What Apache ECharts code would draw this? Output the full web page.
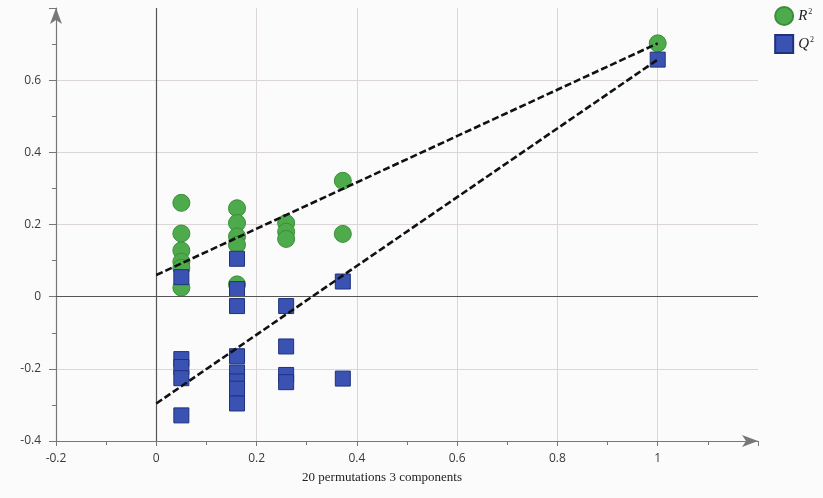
<!DOCTYPE html>
<html><head><meta charset="utf-8">
<script src="https://cdn.jsdelivr.net/npm/echarts@6/dist/echarts.min.js"></script>
<style>html,body{margin:0;padding:0;background:#fbfbfb}#c{width:823px;height:498px}</style>
</head><body><div id="c"></div>
<script>
// R2 permutation points
const r2X = [0.05,0.05,0.05,0.05,0.05,0.05, 0.161,0.161,0.161,0.161,0.161, 0.259,0.259,0.259, 0.372,0.372, 1.0];
const r2Y = [0.26,0.175,0.128,0.097,0.08,0.025, 0.245,0.204,0.167,0.144,0.034, 0.204,0.18,0.16, 0.321,0.174, 0.702];
// Q2 permutation points
const q2X = [0.05,0.05,0.05,0.05,0.05, 0.161,0.161,0.161,0.161,0.161,0.161,0.161,0.161, 0.259,0.259,0.259,0.259, 0.372,0.372, 1.0];
const q2Y = [0.054,-0.173,-0.195,-0.226,-0.329, 0.105,0.021,-0.026,-0.165,-0.21,-0.235,-0.255,-0.296, -0.026,-0.138,-0.217,-0.237, 0.042,-0.227, 0.657];
// regression lines (intercept at x=0, end at x=1)
const r2LineX = [0, 1];
const r2LineY = [0.06, 0.702];
const q2LineX = [0, 1];
const q2LineY = [-0.296, 0.657];
const xTicks = [-0.2, 0, 0.2, 0.4, 0.6, 0.8, 1];
const yTicks = [-0.4, -0.2, 0, 0.2, 0.4, 0.6];
const xAxisName = '20 permutations 3 components';

const zip = (a, b) => a.map((v, i) => [v, b[i]]);
const chart = echarts.init(document.getElementById('c'));
const labelStyle = {color: '#3a3a3a', fontSize: 12, fontFamily: 'Open Sans'};
chart.setOption({
  backgroundColor: '#fbfbfb',
  animation: false,
  grid: {left: 56, top: 8, width: 702, height: 433, containLabel: false},
  legend: {
    orient: 'vertical', right: 4, top: 1, itemGap: 8, itemWidth: 18, itemHeight: 18,
    data: [{name: 'R2', icon: 'circle'}, {name: 'Q2', icon: 'rect'}],
    formatter: n => n === 'R2' ? '{i|R}{s|2}' : '{i|Q}{s|2}',
    textStyle: {rich: {
      i: {fontFamily: 'Liberation Serif', fontStyle: 'italic', fontSize: 15, color: '#222'},
      s: {fontFamily: 'Liberation Serif', fontSize: 8, color: '#222', verticalAlign: 'top', padding: [0,0,9,1]}
    }}
  },
  xAxis: {
    type: 'value', min: -0.2, max: 1.2, interval: 0.2,
    name: xAxisName, nameLocation: 'middle', nameGap: 30,
    nameTextStyle: {fontFamily: 'Liberation Serif', fontSize: 13, color: '#222', padding: [0, 50, 0, 0]},
    axisLine: {show: true, onZero: false, lineStyle: {color: '#777', width: 1.2}, symbol: ['none', 'arrow'], symbolSize: [9, 16]},
    axisTick: {show: true, length: 5, lineStyle: {color: '#777'}},
    minorTick: {show: true, splitNumber: 2, length: 4, lineStyle: {color: '#777'}},
    axisLabel: Object.assign({margin: 12, showMaxLabel: false,
      formatter: v => xTicks.some(t => Math.abs(t - v) < 1e-9) ? String(+v.toFixed(1)) : ''}, labelStyle),
    splitLine: {show: true, showMinLine: false, showMaxLine: false, lineStyle: {color: '#dcd6d6', width: 1}}
  },
  yAxis: {
    type: 'value', min: -0.4, max: 0.8, interval: 0.2,
    axisLine: {show: true, onZero: false, lineStyle: {color: '#777', width: 1.2}, symbol: ['none', 'arrow'], symbolSize: [9, 16]},
    axisTick: {show: true, length: 7, lineStyle: {color: '#777'}},
    minorTick: {show: true, splitNumber: 2, length: 4, lineStyle: {color: '#777'}},
    axisLabel: Object.assign({margin: 15, showMaxLabel: false,
      formatter: v => yTicks.some(t => Math.abs(t - v) < 1e-9) ? String(+v.toFixed(1)) : ''}, labelStyle),
    splitLine: {show: true, showMinLine: false, showMaxLine: false, lineStyle: {color: '#dcd6d6', width: 1}}
  },
  series: [
    {
      type: 'line', name: 'zero', data: [], silent: true, z: 1,
      markLine: {silent: true, symbol: 'none', label: {show: false},
        lineStyle: {color: '#555', width: 1.2, type: 'solid'},
        data: [{xAxis: 0}, {yAxis: 0}]}
    },
    {
      type: 'scatter', name: 'R2', data: zip(r2X, r2Y), symbol: 'circle', symbolSize: 17, z: 3,
      itemStyle: {color: '#4eab4b', borderColor: '#3b8d3a', borderWidth: 1, opacity: 1}
    },
    {
      type: 'scatter', name: 'Q2', data: zip(q2X, q2Y), symbol: 'rect', symbolSize: 15, z: 4,
      itemStyle: {color: '#3a53b3', borderColor: '#1f327f', borderWidth: 1, opacity: 1}
    },
    {
      type: 'line', name: 'r2fit', data: zip(r2LineX, r2LineY), symbol: 'none', z: 5,
      lineStyle: {color: '#111', width: 2.6, type: [7, 3]}
    },
    {
      type: 'line', name: 'q2fit', data: zip(q2LineX, q2LineY), symbol: 'none', z: 5,
      lineStyle: {color: '#111', width: 2.6, type: [7, 3]}
    }
  ]
});
</script></body></html>
